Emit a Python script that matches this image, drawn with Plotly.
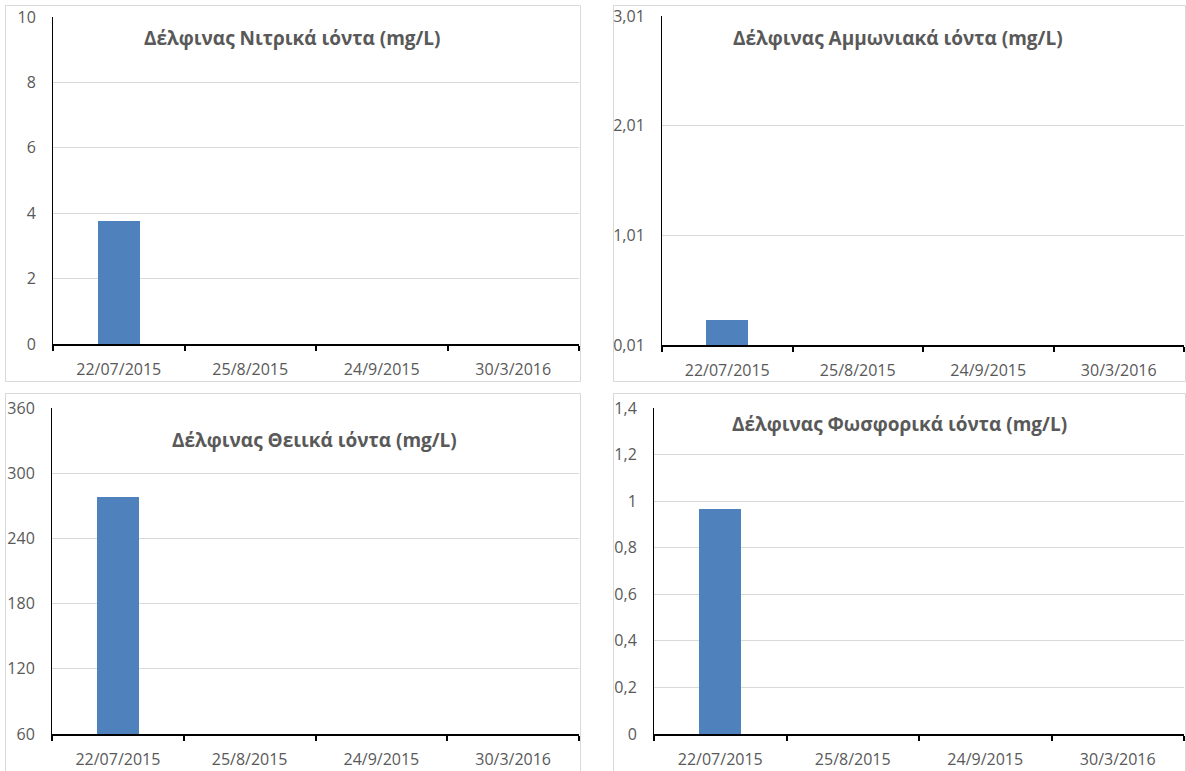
import plotly.graph_objects as go

W, H = 1186, 771

# Sampling dates and measured concentrations (mg/L) at Δέλφινας
dates = ["22/07/2015", "25/8/2015", "24/9/2015", "30/3/2016"]
nitrate = [3.76, None, None, None]
ammonium = [0.24, None, None, None]
sulfate = [278, None, None, None]
phosphate = [0.965, None, None, None]

titles = [
    "Δέλφινας Νιτρικά ιόντα (mg/L)",
    "Δέλφινας Αμμωνιακά ιόντα (mg/L)",
    "Δέλφινας Θειικά ιόντα (mg/L)",
    "Δέλφινας Φωσφορικά ιόντα (mg/L)",
]

# y-axis scales: (min, max, step)
y_scales = [(0, 10, 2), (0.01, 3.01, 1), (60, 360, 60), (0, 1.4, 0.2)]

series = [nitrate, ammonium, sulfate, phosphate]

# pixel geometry of each panel: plot area (x0, x1, ytop, ybottom), frame box, title centre
plots = [
    (53, 579, 17, 344),
    (662, 1184, 16, 345),
    (52, 579, 408, 734),
    (654, 1184, 408, 734),
]
frames = [
    (5.5, 580.5, 5.5, 381.5),
    (613.5, 1185.5, 5.5, 381.5),
    (5.5, 580.5, 393.5, 790),
    (613.5, 1185.5, 393.5, 790),
]
title_pos = [(292, 38), (898, 38), (314, 440), (899, 424)]

px = lambda x: x / W
py = lambda y: (H - y) / H

BAR = "#4f81bd"
GREY = "#595959"
GRID = "#d9d9d9"
FONT = "Open Sans"

fig = go.Figure()
shapes = []
annotations = []

for i in range(4):
    n = "" if i == 0 else str(i + 1)
    xa, ya = "x" + n, "y" + n
    fig.add_trace(go.Bar(
        x=dates, y=series[i], xaxis=xa, yaxis=ya, width=0.32,
        marker=dict(color=BAR, line=dict(width=0)), showlegend=False,
    ))
    x0, x1, yt, yb = plots[i]
    lo, hi, step = y_scales[i]
    fig.layout["xaxis" + n] = dict(
        domain=[px(x0), px(x1)], anchor=ya, type="category",
        range=[-0.5, 3.5], showgrid=False, showline=True,
        linecolor="#000000", linewidth=2, ticks="outside",
        tickson="boundaries", ticklen=5, tickwidth=1.5, tickcolor="#000000",
        tickfont=dict(family=FONT, size=16, color=GREY),
        ticklabelstandoff=10, fixedrange=True, automargin=False,
    )
    fig.layout["yaxis" + n] = dict(
        domain=[py(yb), py(yt)], anchor=xa, range=[lo, hi],
        tick0=lo, dtick=step, showgrid=True, gridcolor=GRID, gridwidth=1,
        showline=True, linecolor="#000000", linewidth=1, ticks="",
        zeroline=False, tickfont=dict(family=FONT, size=16, color=GREY),
        ticklabelstandoff=13, fixedrange=True, automargin=False,
        tickformat=".2f" if i == 1 else None,
    )
    fx0, fx1, fy0, fy1 = frames[i]
    shapes.append(dict(
        type="rect", xref="paper", yref="paper",
        x0=px(fx0), x1=px(fx1), y0=py(fy1), y1=py(fy0),
        line=dict(color=GRID, width=1), fillcolor="rgba(0,0,0,0)", layer="below",
    ))
    tx, ty = title_pos[i]
    annotations.append(dict(
        text="<b>" + titles[i] + "</b>", xref="paper", yref="paper",
        x=px(tx), y=py(ty), xanchor="center", yanchor="middle",
        showarrow=False, font=dict(family=FONT, size=19, color=GREY),
    ))

fig.update_layout(
    width=W, height=H, margin=dict(l=0, r=0, t=0, b=0, autoexpand=False),
    paper_bgcolor="white", plot_bgcolor="white",
    separators=",.", shapes=shapes, annotations=annotations,
    bargap=0, showlegend=False,
)

fig.write_html("out.html")
